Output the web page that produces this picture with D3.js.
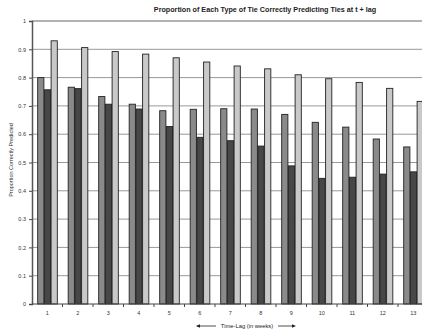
<!DOCTYPE html>
<html><head><meta charset="utf-8">
<script src="https://cdn.jsdelivr.net/npm/d3@7"></script>
<style>body{margin:0;background:#fff}svg{display:block}</style>
</head><body>
<script>
const categories = ["1","2","3","4","5","6","7","8","9","10","11","12","13"];
const seriesA = [0.80,0.766,0.733,0.706,0.683,0.688,0.690,0.689,0.670,0.642,0.625,0.583,0.555];
const seriesB = [0.757,0.761,0.706,0.689,0.627,0.589,0.577,0.558,0.488,0.444,0.448,0.459,0.467];
const seriesC = [0.93,0.906,0.892,0.883,0.87,0.855,0.841,0.831,0.810,0.796,0.783,0.762,0.716];
const yTicks = [0,0.1,0.2,0.3,0.4,0.5,0.6,0.7,0.8,0.9,1];
const yTickLabels = ["0","0.1","0.2","0.3","0.4","0.5","0.6","0.7","0.8","0.9","1"];

(function(){
const W=422,H=334;
const svg=d3.select("body").append("svg").attr("width",W).attr("height",H);
const pL=32, pR=428.5, pT=21, pB=304;
const x=d3.scaleBand().domain(categories).range([pL,pR]).paddingInner(0.34).paddingOuter(0.17);
const sub=d3.scaleBand().domain([0,1,2]).range([0,x.bandwidth()]);
const y=d3.scaleLinear().domain([0,1]).range([pB,pT]);
const font="'Liberation Sans', Arial, sans-serif";

// gridlines
svg.append("g").selectAll("line").data(yTicks.slice(1)).join("line")
  .attr("x1",pL).attr("x2",W).attr("y1",d=>y(d)).attr("y2",d=>y(d))
  .attr("stroke",d=>d===1?"#666":"#999").attr("stroke-width",d=>d===1?1.2:1);

// bars
const series=[{v:seriesA,fill:"#8a8a8a"},{v:seriesB,fill:"#474747"},{v:seriesC,fill:"#c9c9c9"}];
series.forEach((s,i)=>{
  svg.append("g").selectAll("rect").data(categories).join("rect")
    .attr("x",(c)=>x(c)+sub(i)+0.5)
    .attr("width",sub.bandwidth()-0.5)
    .attr("y",(c,j)=>y(s.v[j]))
    .attr("height",(c,j)=>y(0)-y(s.v[j]))
    .attr("fill",s.fill).attr("stroke","#222").attr("stroke-width",0.9);
});

// y axis
const ya=d3.axisLeft(y).tickValues(yTicks).tickFormat((d,i)=>yTickLabels[i]).tickSize(3).tickPadding(3);
const gy=svg.append("g").attr("transform",`translate(${pL},0)`).call(ya);
gy.select(".domain").attr("stroke","#555").attr("stroke-width",1.5);
gy.selectAll(".tick line").attr("stroke","#444");
gy.selectAll("text").attr("font-family",font).attr("font-size",5.5).attr("fill","#333");

// x axis
svg.append("line").attr("x1",pL).attr("x2",W).attr("y1",pB).attr("y2",pB).attr("stroke","#444").attr("stroke-width",1.2);
const step=x.step();
svg.append("g").selectAll("line").data(d3.range(1,13)).join("line")
  .attr("x1",d=>pL+d*step).attr("x2",d=>pL+d*step).attr("y1",pB).attr("y2",pB+3)
  .attr("stroke","#444");
svg.append("g").selectAll("text").data(categories).join("text")
  .attr("x",c=>x(c)+x.bandwidth()/2).attr("y",315)
  .attr("text-anchor","middle").attr("font-family",font).attr("font-size",5.5).attr("fill","#333").text(c=>c);

// titles
svg.append("text").attr("x",265).attr("y",12).attr("text-anchor","middle")
  .attr("font-family",font).attr("font-weight","bold").attr("font-size",7.2).attr("fill","#222")
  .text("Proportion of Each Type of Tie Correctly Predicting Ties at t + lag");
svg.append("text").attr("transform","translate(13,160) rotate(-90)").attr("text-anchor","middle")
  .attr("font-family",font).attr("font-size",5.5).attr("fill","#333").text("Proportion Correctly Predicted");
svg.append("text").attr("x",247).attr("y",328).attr("text-anchor","middle")
  .attr("font-family",font).attr("font-size",5.8).attr("fill","#222").text("Time-Lag (in weeks)");
// arrows
svg.append("line").attr("x1",197).attr("x2",216).attr("y1",326).attr("y2",326).attr("stroke","#222").attr("stroke-width",0.8);
svg.append("path").attr("d","M196,326 L200,324.2 L200,327.8 Z").attr("fill","#222");
svg.append("line").attr("x1",278).attr("x2",294).attr("y1",326).attr("y2",326).attr("stroke","#222").attr("stroke-width",0.8);
svg.append("path").attr("d","M296,326 L292,324.2 L292,327.8 Z").attr("fill","#222");
})();
</script>
</body></html>
